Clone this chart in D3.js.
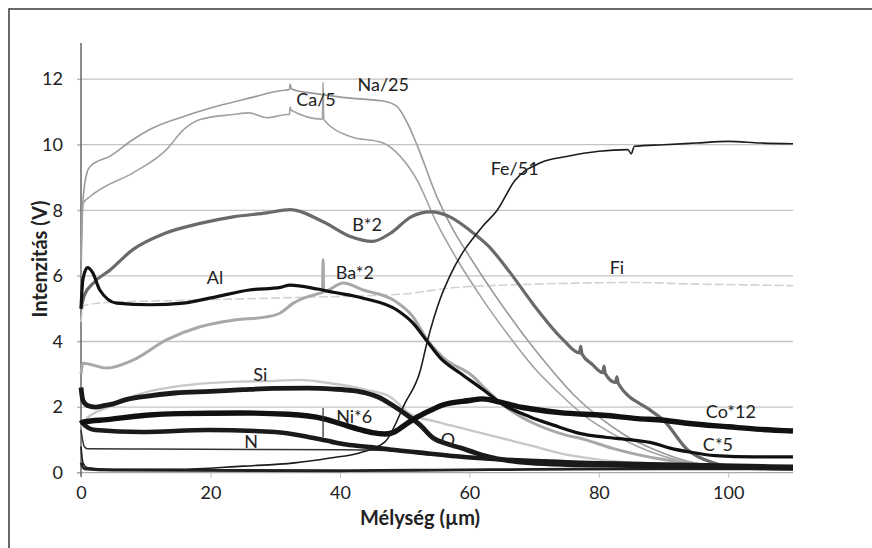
<!DOCTYPE html>
<html>
<head>
<meta charset="utf-8">
<script src="https://cdn.jsdelivr.net/npm/d3@7"></script>
<style>
  body { margin: 0; background: #fff; }
  svg text { font-family: Lato, "Open Sans", sans-serif; fill: #222; }
</style>
</head>
<body>
<div id="chart-area"></div>
<script>
// tick values
const xTicks = [0, 20, 40, 60, 80, 100];
const yTicks = [0, 2, 4, 6, 8, 10, 12];

// depth (um), intensity (V)
const naSeries = [[0,6.0],[0.3,8.3],[1,9.2],[1.5,9.35],[4.5,9.65],[8,10.15],[11,10.5],[16,10.87],[21,11.17],[26,11.42],[31,11.65],[32.2,11.68],[32.3,11.85],[32.5,11.7],[36.5,11.55],[41.6,11.42],[46.7,11.33],[48.8,11.17],[50.4,10.67],[52,9.95],[55,8.4],[57.5,7.4],[60,6.6],[64,5.4],[68,4.3],[72,3.3],[76,2.4],[80,1.7],[84,1.15],[88,0.75],[92,0.45],[96,0.25],[100,0.15],[110,0.1]];
const caSeries = [[0,6.5],[0.3,8.2],[1.4,8.42],[2.9,8.63],[8.1,9.15],[13.2,9.85],[15.8,10.45],[18.4,10.77],[23.5,10.92],[26,10.97],[28.7,10.82],[31.8,10.92],[32.2,10.92],[32.3,11.15],[32.5,11.05],[37.3,10.78],[37.4,11.9],[37.5,10.77],[41.6,10.25],[46.7,10.05],[49.3,9.65],[51.9,8.93],[55,7.6],[58.1,6.5],[62.1,5.27],[66,4.2],[70,3.2],[74,2.4],[78,1.7],[82,1.2],[86,0.8],[90,0.5],[95,0.25],[100,0.12],[110,0.1]];
const bSeries = [[0,5.0],[0.5,5.4],[2,5.8],[4.5,6.18],[8,6.8],[13,7.3],[18.4,7.6],[23.5,7.8],[28.7,7.92],[32.3,8.02],[37.4,7.65],[41.6,7.2],[45,7.05],[47.8,7.3],[51,7.8],[54,7.95],[57,7.8],[60,7.4],[63,6.9],[66.3,6.1],[70,5.1],[74.5,4.05],[77,3.65],[77.2,3.85],[77.4,3.62],[79,3.3],[80.6,3.05],[80.8,3.25],[81,3.02],[82.6,2.75],[82.8,2.92],[83,2.72],[88,1.9],[90,1.6],[93.7,0.7],[97.7,0.3],[102,0.15],[110,0.1]];
const feSeries = [[0,0.8],[0.3,0.3],[1,0.15],[5,0.1],[15,0.1],[25,0.2],[33,0.3],[38.5,0.45],[43,0.6],[47,0.95],[50,2.1],[52.4,3.1],[53.5,4.0],[55.5,5.3],[57,6.0],[62,7.5],[64.3,8.0],[67,8.9],[71,9.45],[75,9.64],[80,9.8],[84.5,9.85],[85,9.72],[85.5,9.95],[90,10.0],[95,10.05],[100,10.1],[105,10.05],[110,10.03]];
const alSeries = [[0,5.0],[0.3,5.9],[1,6.25],[1.8,6.1],[2.9,5.57],[5.5,5.17],[10.7,5.12],[15.8,5.17],[21,5.37],[26,5.57],[30.8,5.65],[32.3,5.72],[36.5,5.6],[39,5.5],[43.6,5.32],[48.8,4.96],[51.3,4.56],[53.5,4.0],[55.5,3.5],[58.6,3.03],[62,2.55],[65,2.1],[69.4,1.7],[73,1.45],[77,1.2],[81,1.08],[85,1.0],[88.4,0.9],[91,0.75],[94,0.63],[98,0.52],[104,0.48],[110,0.48]];
const baSeries = [[0,3.0],[0.3,3.34],[4,3.19],[8,3.43],[13.2,4.05],[18.4,4.45],[23.5,4.65],[28.7,4.75],[30.8,4.87],[32.8,5.17],[36.5,5.45],[37.3,5.5],[37.4,6.5],[37.5,5.52],[40.5,5.78],[43.6,5.57],[48.2,5.27],[51.3,4.75],[53.5,4.05],[56,3.5],[60.6,2.93],[62,2.65],[66,1.95],[70,1.5],[74,1.2],[78,1.0],[82,0.75],[86,0.55],[90,0.4],[94,0.3],[98,0.2],[110,0.15]];
const fiSeries = [[0,4.6],[0.5,5.1],[5,5.2],[15,5.25],[25,5.3],[35,5.35],[45,5.4],[50,5.45],[57,5.63],[67,5.73],[77,5.78],[85,5.8],[95,5.75],[105,5.72],[110,5.7]];
const siSeries = [[0,1.4],[0.6,1.6],[4.2,2.0],[9.4,2.42],[14.5,2.62],[19.6,2.73],[25,2.78],[30,2.8],[33.8,2.83],[37.7,2.75],[44.2,2.52],[47.8,2.31],[50.8,1.8],[55,1.55],[60,1.3],[65,1.05],[70,0.8],[75,0.55],[80,0.4],[85,0.3],[90,0.22],[100,0.15],[110,0.12]];
const oSeries = [[0,2.6],[0.3,2.2],[1,2.05],[2.2,2.0],[3.7,2.05],[5,2.1],[6.8,2.22],[10,2.33],[14.5,2.43],[20,2.48],[25,2.53],[30,2.57],[35,2.58],[39,2.55],[42,2.5],[44,2.43],[46,2.3],[48,2.07],[50.4,1.75],[52.4,1.45],[54.4,1.06],[56.5,0.88],[58.6,0.76],[61,0.6],[63.7,0.45],[66,0.37],[69.4,0.3],[75,0.25],[85,0.22],[95,0.18],[110,0.15]];
const coSeries = [[0,1.5],[0.5,1.55],[4,1.62],[10,1.75],[15,1.8],[25,1.82],[32,1.78],[37.4,1.65],[40,1.5],[43,1.32],[45,1.22],[47,1.18],[48.5,1.25],[50,1.45],[52,1.7],[54,1.9],[56,2.07],[60,2.2],[62,2.25],[64.8,2.15],[67.9,2.0],[69.4,1.95],[74,1.83],[80.7,1.75],[86,1.65],[90,1.6],[94,1.5],[100,1.4],[105,1.32],[110,1.27]];
const nSeries = [[0,1.6],[0.3,1.5],[2.2,1.3],[9.4,1.24],[19.6,1.3],[30,1.24],[35.1,1.09],[38.8,0.94],[41,0.86],[44.7,0.78],[48,0.7],[52,0.62],[58,0.5],[65,0.4],[75,0.32],[90,0.25],[110,0.18]];
const thinSeries = [[0,1.3],[0.5,0.8],[1,0.73],[10,0.72],[40,0.7],[47,0.68],[52,0.6],[57.5,0.48],[65,0.38],[77,0.3],[90,0.22],[100,0.17],[110,0.15]];
const baseSeries = [[0,0.3],[0.5,0.12],[5,0.08],[40,0.06],[55,0.08],[70,0.1],[90,0.12],[110,0.12]];
// thin vertical glitch at 37.4 um in the lower profiles
const glitchSeries = [[37.4,1.97],[37.4,1.08]];

// series labels: text, depth, intensity
const seriesLabels = [
  ["Na/25", 46.7, 11.83], ["Ca/5", 36.3, 11.38], ["B*2", 44.2, 7.56],
  ["Fe/51", 67.0, 9.27], ["Al", 20.7, 5.94], ["Ba*2", 42.3, 6.1],
  ["Fi", 82.8, 6.25], ["Si", 27.7, 2.98], ["Ni*6", 42.2, 1.71],
  ["N", 26.3, 0.94], ["O", 56.7, 1.0], ["Co*12", 100.4, 1.85], ["C*5", 98.4, 0.85]
];

const width = 872, height = 548;
const svg = d3.select("#chart-area")
    .append("svg")
    .attr("width", width)
    .attr("height", height);

// outer frame, only top and left edge fall inside the picture
svg.append("rect")
    .attr("x", 9).attr("y", 9)
    .attr("width", 900).attr("height", 600)
    .attr("fill", "none")
    .attr("stroke", "#444")
    .attr("stroke-width", 1.6);

const x = d3.scaleLinear().domain([0, 110]).range([81, 793]);
const y = d3.scaleLinear().domain([0, 13.1]).range([472.7, 43]);

// gridlines
svg.selectAll(".grid")
    .data(yTicks.slice(1))
    .enter().append("line")
    .attr("x1", x(0) - 4).attr("x2", x(110))
    .attr("y1", d => y(d)).attr("y2", d => y(d))
    .attr("stroke", "#c4c4c4")
    .attr("stroke-width", 1.3);

// y axis
const yAxis = svg.append("g")
    .attr("transform", "translate(" + x(0) + ",0)")
    .call(d3.axisLeft(y).tickValues(yTicks).tickSize(4).tickPadding(14).tickFormat(d3.format("d")));
yAxis.select(".domain").remove();
yAxis.selectAll(".tick line").attr("stroke", "#bbb");
yAxis.selectAll("text").style("font-size", "18px").attr("fill", "#222");

// x axis
const xAxis = svg.append("g")
    .attr("transform", "translate(0," + y(0) + ")")
    .call(d3.axisBottom(x).tickValues(xTicks).tickSize(5).tickPadding(9).tickFormat(d3.format("d")));
xAxis.select(".domain").attr("stroke", "#aaa").attr("stroke-width", 1.3)
    .attr("d", "M" + (x(0) - 4) + ",0H" + x(110));
xAxis.selectAll(".tick line").attr("stroke", "#bbb");
xAxis.selectAll("text").style("font-size", "18px").attr("fill", "#222");

svg.append("line")
    .attr("x1", x(0)).attr("x2", x(0))
    .attr("y1", y(13.1)).attr("y2", y(0) + 4)
    .attr("stroke", "#666")
    .attr("stroke-width", 1.5);

// series, drawn back to front
const series = [
  { data: fiSeries, color: "#d2d2d2", w: 1.6, dash: "9,3" },
  { data: siSeries, color: "#c8c8c8", w: 2.4 },
  { data: naSeries, color: "#9a9a9a", w: 1.6 },
  { data: caSeries, color: "#a2a2a2", w: 1.6 },
  { data: baSeries, color: "#a8a8a8", w: 3.0 },
  { data: bSeries, color: "#6a6a6a", w: 3.2 },
  { data: baseSeries, color: "#222", w: 2.8 },
  { data: thinSeries, color: "#333", w: 1.5 },
  { data: nSeries, color: "#1a1a1a", w: 4.6 },
  { data: oSeries, color: "#1a1a1a", w: 4.8 },
  { data: coSeries, color: "#111", w: 5.4 },
  { data: alSeries, color: "#111", w: 3.2 },
  { data: feSeries, color: "#1c1c1c", w: 1.6 },
  { data: glitchSeries, color: "#333", w: 1.3, linear: true }
];

const line = d3.line()
    .x(d => x(d[0]))
    .y(d => y(d[1]))
    .curve(d3.curveMonotoneX);
const straight = d3.line()
    .x(d => x(d[0]))
    .y(d => y(d[1]));

svg.selectAll(".series")
    .data(series)
    .enter().append("path")
    .attr("d", d => d.linear ? straight(d.data) : line(d.data))
    .attr("fill", "none")
    .attr("stroke", d => d.color)
    .attr("stroke-width", d => d.w)
    .attr("stroke-dasharray", d => d.dash || null)
    .attr("stroke-linejoin", "round");

// labels
svg.selectAll(".lbl")
    .data(seriesLabels)
    .enter().append("text")
    .attr("x", d => x(d[1]))
    .attr("y", d => y(d[2]))
    .attr("dy", "0.35em")
    .attr("text-anchor", "middle")
    .style("font-size", "18px")
    .text(d => d[0]);

// axis titles
svg.append("text")
    .attr("x", 420).attr("y", 518)
    .attr("dy", "0.35em")
    .attr("text-anchor", "middle")
    .style("font-size", "20px")
    .style("font-weight", "bold")
    .text("Mélység (µm)");

svg.append("text")
    .attr("transform", "translate(40,259) rotate(-90)")
    .attr("dy", "0.35em")
    .attr("text-anchor", "middle")
    .style("font-size", "20px")
    .style("font-weight", "bold")
    .text("Intenzitás (V)");
</script>
</body>
</html>
